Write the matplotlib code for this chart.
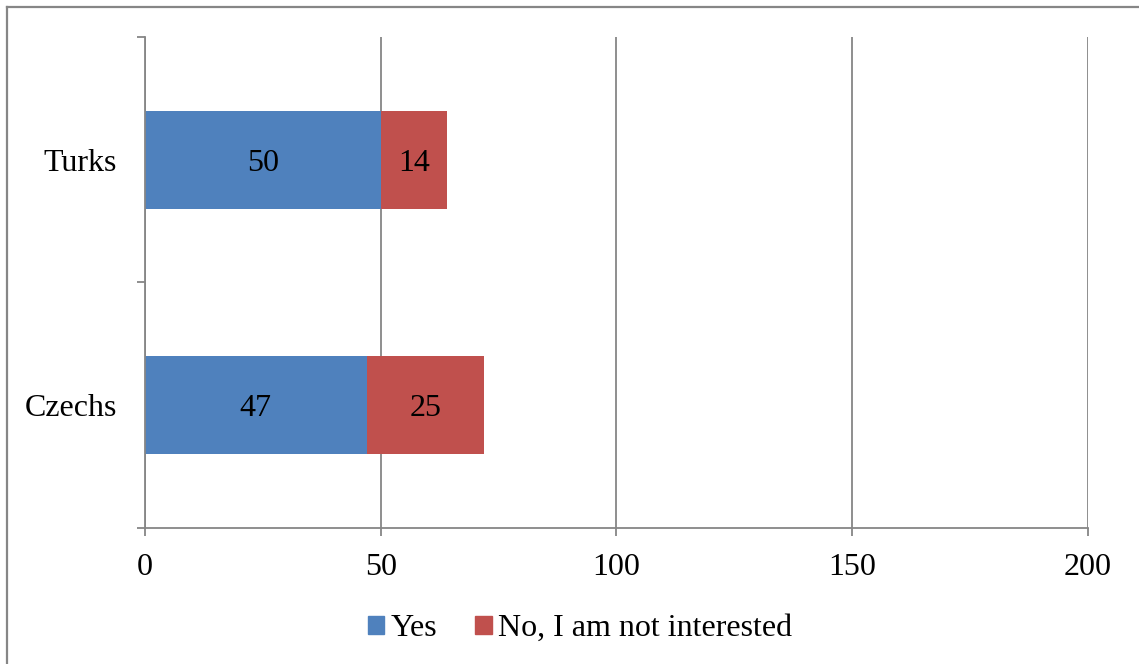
import numpy as np
import matplotlib.pyplot as plt
from matplotlib.lines import Line2D
from matplotlib.patches import Patch

plt.rcParams['font.family'] = ['Liberation Serif', 'DejaVu Serif']

groups = ['Czechs', 'Turks']
yes = [47, 50]
no_interest = [25, 14]
series_names = ['Yes', 'No, I am not interested']
x_ticks = [0, 50, 100, 150, 200]

blue = '#4F81BD'
red = '#C0504D'
grey = '#868686'

fig = plt.figure(figsize=(11.39, 6.64), dpi=100)
ax = fig.add_axes([0.1273, 0.2048, 0.8279, 0.7395])

y = np.arange(len(groups))
h = 0.4
b1 = ax.barh(y, yes, height=h, color=blue, edgecolor='none', zorder=3)
b2 = ax.barh(y, no_interest, left=yes, height=h, color=red, edgecolor='none', zorder=3)

for bars, vals in ((b1, yes), (b2, no_interest)):
    for r, v in zip(bars, vals):
        ax.text(r.get_x() + r.get_width() / 2, r.get_y() + r.get_height() / 2, str(v),
                ha='center', va='center_baseline', fontsize=23, zorder=4)

ax.set_xlim(0, 200)
ax.set_ylim(-0.5, len(groups) - 0.5)
ax.set_xticks(x_ticks)
ax.set_xticklabels([str(t) for t in x_ticks])
ax.set_yticks(y)
ax.set_yticklabels(groups)
ax.set_yticks(np.arange(-0.5, len(groups), 1.0), minor=True)

ax.tick_params(axis='x', labelsize=23, length=6, width=1.3, color=grey, pad=12)
ax.tick_params(axis='y', which='major', labelsize=23, length=0, pad=20)
ax.tick_params(axis='y', which='minor', length=6, width=1.3, color=grey)

ax.xaxis.grid(True, color=grey, linewidth=1.3, zorder=0)
ax.set_axisbelow(True)
for s in ('top', 'right'):
    ax.spines[s].set_visible(False)
for s in ('left', 'bottom'):
    ax.spines[s].set_color(grey)
    ax.spines[s].set_linewidth(1.3)
    ax.spines[s].set_zorder(5)

handles = [Patch(color=blue), Patch(color=red)]
fig.legend(handles, series_names, loc='center', bbox_to_anchor=(0.509, 0.053),
           ncol=2, frameon=False, fontsize=23, handlelength=0.52, handleheight=0.52,
           handletextpad=0.18, columnspacing=1.2)

# chart border along the top and left edge
fig.add_artist(Line2D([7 / 1139, 1.0], [1 - 6.5 / 664] * 2, color=grey, linewidth=1.6,
                      transform=fig.transFigure))
fig.add_artist(Line2D([7 / 1139] * 2, [0.0, 1 - 6.5 / 664], color=grey, linewidth=1.6,
                      transform=fig.transFigure))

fig.savefig('out.png', dpi=100)
